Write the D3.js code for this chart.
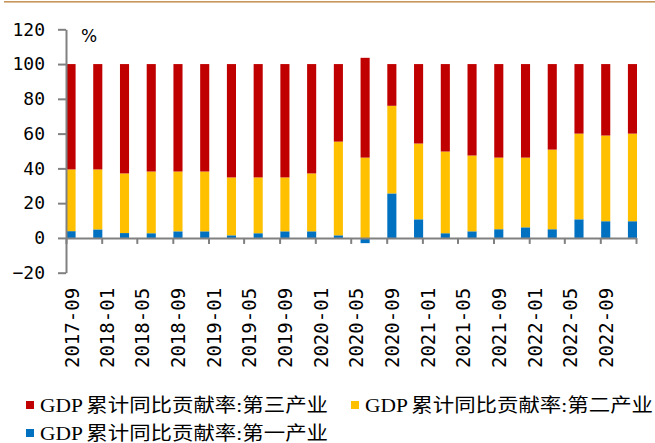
<!DOCTYPE html>
<html>
<head>
<meta charset="utf-8">
<script src="https://cdn.jsdelivr.net/npm/d3@7"></script>
<style>
body{margin:0;background:#fff;}
</style>
</head>
<body>
<script>
// quarters, cumulative contribution rate to GDP growth (%)
var quarters=["2017-09","2017-12","2018-03","2018-06","2018-09","2018-12","2019-03","2019-06","2019-09","2019-12",
  "2020-03","2020-06","2020-09","2020-12","2021-03","2021-06","2021-09","2021-12","2022-03","2022-06","2022-09","2022-12"];
var primary=[3.9,4.9,2.8,2.7,3.8,3.8,1.5,2.7,3.8,3.8,1.5,-3.0,25.6,10.7,2.7,3.8,5.0,6.1,5.0,10.7,9.6,9.6];
var secondary=[35.5,34.5,34.3,35.5,34.4,34.4,33.3,32.1,31.0,33.3,53.9,46.2,50.4,43.6,47.0,43.6,41.2,40.1,45.8,49.3,49.3,50.4];
var tertiary=[60.6,60.6,62.9,61.8,61.8,61.8,65.2,65.2,65.2,62.9,44.6,57.4,24.0,45.7,50.3,52.6,53.8,53.8,49.2,40.0,41.1,40.0];
var yTicks=[-20,0,20,40,60,80,100,120];
var seriesNames=["GDP累计同比贡献率:第三产业","GDP累计同比贡献率:第二产业","GDP累计同比贡献率:第一产业"];
var colors={primary:"#0070C0",secondary:"#FFC000",tertiary:"#C00000"};

var drawChart=function()
{
  var width=655, height=443;
  var left=66, right=637, top=29.3, zeroBottom=272.7;

  var svg=d3.select("body").append("svg")
            .attr("width",width)
            .attr("height",height);

  // thin top border
  svg.append("rect")
     .attr("x",4).attr("y",1)
     .attr("width",width-4).attr("height",1.6)
     .attr("fill","#C8965A");

  var rows=quarters.map(function(q,i){
    return {q:q,primary:primary[i],secondary:secondary[i],tertiary:tertiary[i]};
  });

  var x=d3.scaleBand()
          .domain(quarters)
          .range([left+0.5,right])
          .paddingInner(0.66)
          .paddingOuter(0);

  var y=d3.scaleLinear()
          .domain([-20,120])
          .range([zeroBottom,top]);

  var t=d3.scaleTime()
          .domain([new Date(2017,8,1),new Date(2023,0,1)])
          .range([left,right-1]);

  var stack=d3.stack()
              .keys(["primary","secondary","tertiary"])
              .offset(d3.stackOffsetDiverging);

  var layers=svg.selectAll("g.layer")
     .data(stack(rows))
     .enter()
     .append("g")
     .attr("class","layer")
     .attr("fill",function(d){ return colors[d.key]; });

  layers.selectAll("rect")
     .data(function(d){ return d; })
     .enter()
     .append("rect")
     .attr("x",function(d){ return x(d.data.q); })
     .attr("y",function(d){ return y(d[1]); })
     .attr("width",x.bandwidth())
     .attr("height",function(d){ return y(d[0])-y(d[1]); });

  // y axis
  var yAxis=svg.append("g")
     .attr("transform","translate("+left+",0)")
     .call(d3.axisLeft(y).tickValues(yTicks).tickSize(8).tickSizeOuter(0).tickPadding(13));
  yAxis.selectAll("path,line").attr("stroke","#808080").attr("stroke-width",2);
  yAxis.selectAll("text")
     .attr("font-family","DejaVu Sans Mono")
     .attr("font-size",18)
     .attr("fill","#000");
  yAxis.attr("font-size",null).attr("font-family",null);

  // x axis at zero
  var ticks=t.ticks(d3.timeMonth.every(4));
  var xAxis=svg.append("g")
     .attr("transform","translate(0,"+y(0)+")")
     .call(d3.axisBottom(t).tickValues(ticks).tickSize(6).tickSizeOuter(0)
            .tickFormat(function(d,i){ return i<ticks.length-1 ? d3.timeFormat("%Y-%m")(d) : ""; }));
  xAxis.selectAll("path,line").attr("stroke","#808080").attr("stroke-width",2);
  xAxis.selectAll("text")
     .attr("font-family","DejaVu Sans Mono")
     .attr("font-size",19)
     .attr("fill","#000")
     .attr("transform","rotate(-90)")
     .attr("x",-50)
     .attr("y",12)
     .attr("dy",0)
     .style("text-anchor","end");
  xAxis.attr("font-size",null).attr("font-family",null);

  // unit
  svg.append("text")
     .text("%")
     .attr("x",81)
     .attr("y",42)
     .attr("font-family","DejaVu Sans")
     .attr("font-size",17)
     .attr("fill","#000");

  // legend
  var legendItems=[
    {name:seriesNames[0],color:colors.tertiary,x:26,y:405},
    {name:seriesNames[1],color:colors.secondary,x:351,y:405},
    {name:seriesNames[2],color:colors.primary,x:26,y:433}
  ];
  var legend=svg.append("g");
  legend.selectAll("rect")
     .data(legendItems)
     .enter()
     .append("rect")
     .attr("x",function(d){ return d.x; })
     .attr("y",function(d){ return d.y-4; })
     .attr("width",8)
     .attr("height",8)
     .attr("fill",function(d){ return d.color; });
  var lt=legend.selectAll("text")
     .data(legendItems)
     .enter()
     .append("text")
     .attr("x",function(d){ return d.x+14; })
     .attr("y",function(d){ return d.y+7; })
     .attr("textLength",288)
     .attr("lengthAdjust","spacingAndGlyphs")
     .attr("font-family","'Liberation Serif','Noto Sans CJK SC'")
     .attr("font-size",19)
     .attr("fill","#000");
  lt.append("tspan")
     .text(function(d){ return d.name.slice(0,3); });
  lt.append("tspan")
     .attr("dx",3)
     .text(function(d){ return d.name.slice(3); });
}

drawChart();
</script>
</body>
</html>
